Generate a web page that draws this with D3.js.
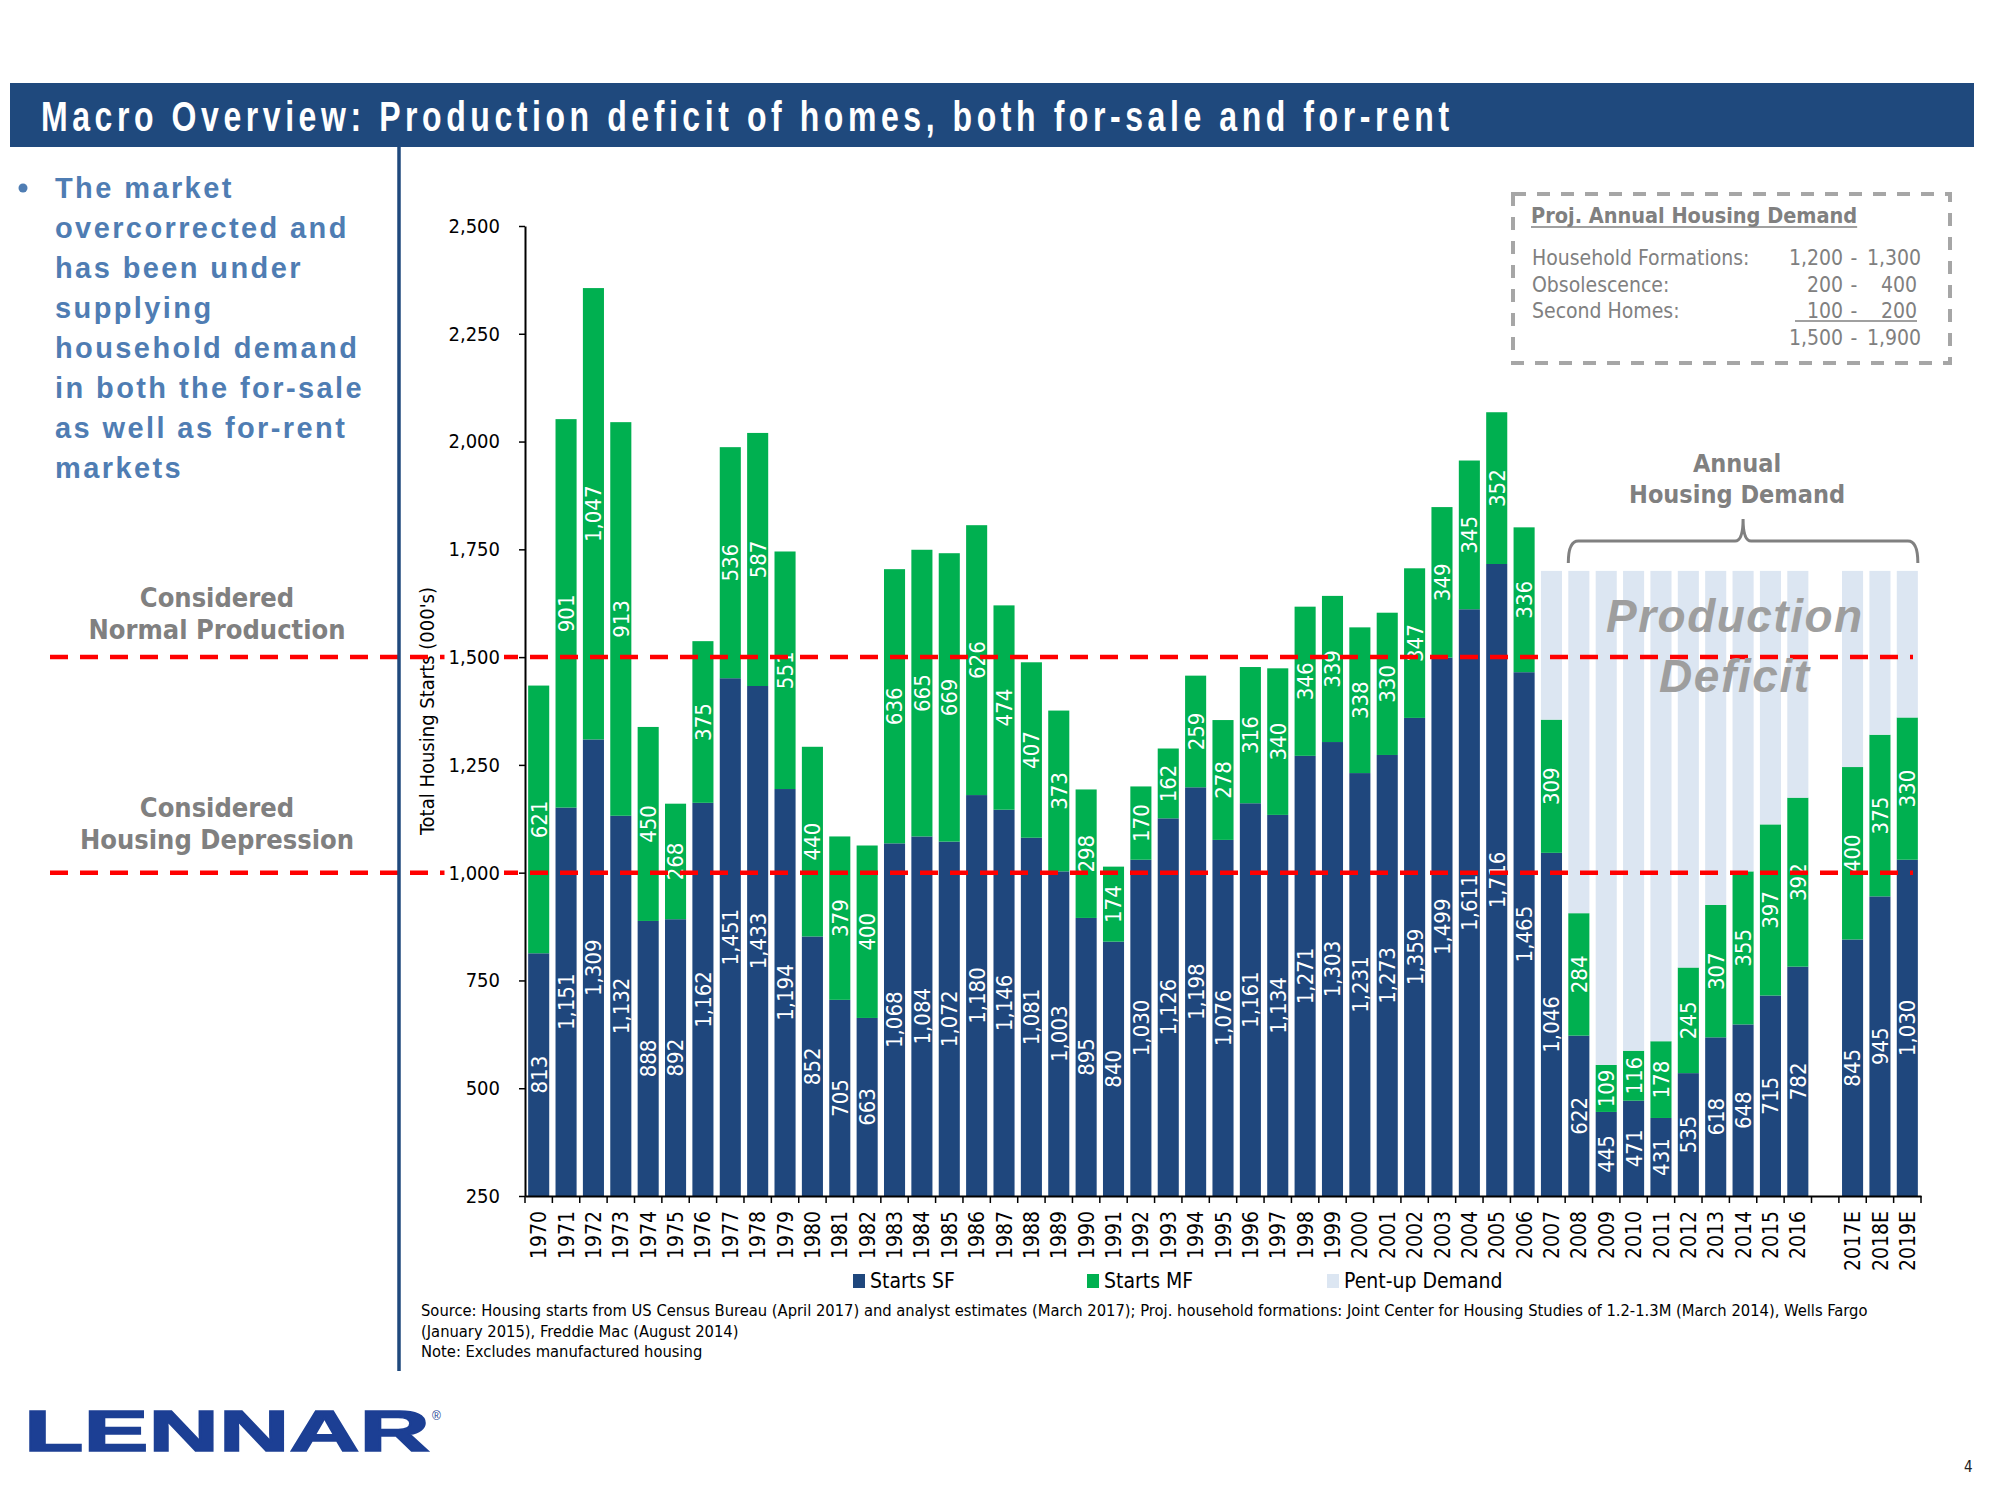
<!DOCTYPE html>
<html>
<head>
<meta charset="utf-8">
<script src="https://cdnjs.cloudflare.com/ajax/libs/d3/7.8.5/d3.min.js"></script>
<style>
  body { margin: 0; background: #fff; }
  svg { display: block; }
</style>
</head>
<body>
<svg id="chart" width="2000" height="1500"></svg>
<script>
// ---- data (thousands of units) ----
const years = [
  "1970","1971","1972","1973","1974","1975","1976","1977","1978","1979",
  "1980","1981","1982","1983","1984","1985","1986","1987","1988","1989",
  "1990","1991","1992","1993","1994","1995","1996","1997","1998","1999",
  "2000","2001","2002","2003","2004","2005","2006","2007","2008","2009",
  "2010","2011","2012","2013","2014","2015","2016","","2017E","2018E","2019E"
];
const startsSF = [
  813,1151,1309,1132,888,892,1162,1451,1433,1194,
  852,705,663,1068,1084,1072,1180,1146,1081,1003,
  895,840,1030,1126,1198,1076,1161,1134,1271,1303,
  1231,1273,1359,1499,1611,1716,1465,1046,622,445,
  471,431,535,618,648,715,782,null,845,945,1030
];
const startsMF = [
  621,901,1047,913,450,268,375,536,587,551,
  440,379,400,636,665,669,626,474,407,373,
  298,174,170,162,259,278,316,340,346,339,
  338,330,347,349,345,352,336,309,284,109,
  116,178,245,307,355,397,392,null,400,375,330
];
const pentYears = ["2007","2008","2009","2010","2011","2012","2013","2014","2015","2016","2017E","2018E","2019E"];
const pentUp    = [345, 794, 1146, 1113, 1091, 920, 775, 697, 588, 526, 455, 380, 340];
const yTicks = [250, 500, 750, 1000, 1250, 1500, 1750, 2000, 2250, 2500];
const refLines = [1500, 1000];

const seriesNames  = ["Starts SF", "Starts MF", "Pent-up Demand"];
const seriesColors = ["#1f477d", "#00b050", "#dce6f2"];

const demandLabels = ["Household Formations:", "Obsolescence:", "Second Homes:", ""];
const demandLow    = ["1,200", "200", "100", "1,500"];
const demandHigh   = ["1,300", "400", "200", "1,900"];

const bulletLines = ["The market", "overcorrected and", "has been under", "supplying",
  "household demand", "in both the for-sale", "as well as for-rent", "markets"];

const sourceLines = [
  "Source: Housing starts from US Census Bureau (April 2017) and analyst estimates (March 2017); Proj. household formations: Joint Center for Housing Studies of 1.2-1.3M (March 2014), Wells Fargo",
  "(January 2015), Freddie Mac (August 2014)",
  "Note: Excludes manufactured housing"
];

const FONT = '"DejaVu Sans Condensed","DejaVu Sans",sans-serif';
const ARIAL = '"Liberation Sans",Arial,sans-serif';
const GREY = "#808080";
const NAVY = "#1f497d";

const svg = d3.select("#chart");

// ---- header band ----
svg.append("rect").attr("x", 10).attr("y", 83).attr("width", 1964).attr("height", 64).attr("fill", NAVY);
const title = svg.append("text")
  .attr("font-family", ARIAL).attr("font-weight", "bold").attr("font-size", 42)
  .attr("letter-spacing", 6).attr("fill", "#fff")
  .text("Macro Overview: Production deficit of homes, both for-sale and for-rent");
const tw = title.node().getComputedTextLength();
title.attr("transform", `translate(41,131) scale(${1413 / tw},1)`);

// ---- left commentary ----
svg.append("circle").attr("cx", 23).attr("cy", 188).attr("r", 4.5).attr("fill", "#4f7db3");
svg.append("g").selectAll("text").data(bulletLines).join("text")
  .attr("x", 55).attr("y", (d, i) => 198 + i * 40)
  .attr("font-family", ARIAL).attr("font-weight", "bold").attr("font-size", 29)
  .attr("letter-spacing", 2.4).attr("fill", "#4f7db3")
  .text(d => d);

const sideNotes = [
  { lines: ["Considered", "Normal Production"], base: 607 },
  { lines: ["Considered", "Housing Depression"], base: 817 }
];
sideNotes.forEach(n => {
  svg.append("g").selectAll("text").data(n.lines).join("text")
    .attr("x", 217).attr("y", (d, i) => n.base + i * 32)
    .attr("text-anchor", "middle")
    .attr("font-family", FONT).attr("font-stretch", "condensed").attr("font-weight", "bold")
    .attr("font-size", 27).attr("fill", GREY)
    .text(d => d);
});

// ---- scales ----
const x = d3.scaleBand().domain(years).range([525, 1921]).paddingInner(0.23).paddingOuter(0.115);
const y = d3.scaleLinear().domain([250, 2500]).range([1196, 226]);
const yMin = y.domain()[0];

// y axis title
svg.append("text")
  .attr("transform", `translate(427,${(y.range()[0] + y.range()[1]) / 2}) rotate(-90)`)
  .attr("text-anchor", "middle").attr("dy", "0.35em")
  .attr("font-family", FONT).attr("font-stretch", "condensed").attr("font-size", 20)
  .text("Total Housing Starts (000's)");

// ---- bars ----
const pentMap = new Map(pentYears.map((k, i) => [k, pentUp[i]]));
const table = years.map((yr, i) => ({
  year: yr, sf: startsSF[i], mf: startsMF[i], pent: pentMap.has(yr) ? pentMap.get(yr) : null
}));
const keys = ["sf", "mf", "pent"];
const stacked = d3.stack().keys(keys).value((d, k) => d[k] || 0)(table);

const barG = svg.append("g");
stacked.forEach((s, si) => {
  barG.append("g").attr("fill", seriesColors[si])
    .selectAll("rect").data(s.filter(d => d.data[keys[si]] != null)).join("rect")
    .attr("x", d => x(d.data.year))
    .attr("width", x.bandwidth())
    .attr("y", d => y(d[1]))
    .attr("height", d => y(Math.max(d[0], yMin)) - y(d[1]));
});

// value labels (SF and MF), centred in each segment
const fmt = d3.format(",");
stacked.slice(0, 2).forEach((s, si) => {
  barG.append("g").selectAll("text").data(s.filter(d => d.data[keys[si]] != null)).join("text")
    .attr("transform", d => {
      const cx = x(d.data.year) + x.bandwidth() / 2;
      const cy = y((Math.max(d[0], yMin) + d[1]) / 2);
      return `translate(${cx},${cy}) rotate(-90)`;
    })
    .attr("text-anchor", "middle").attr("dy", "0.36em")
    .attr("font-family", FONT).attr("font-stretch", "condensed").attr("font-size", 22)
    .attr("fill", "#fff")
    .text(d => fmt(d.data[keys[si]]));
});

// ---- reference lines ----
svg.append("g").selectAll("line").data(refLines).join("line")
  .attr("x1", 50).attr("x2", 1913)
  .attr("y1", d => y(d)).attr("y2", d => y(d))
  .attr("stroke", "#ff0000").attr("stroke-width", 4.5).attr("stroke-dasharray", "18 12");

// ---- axes ----
const yAxis = svg.append("g").attr("transform", `translate(${x.range()[0]},0)`)
  .call(d3.axisLeft(y).tickValues(yTicks).tickFormat(fmt).tickSize(6).tickSizeOuter(0).tickPadding(19));
yAxis.select(".domain").attr("stroke", "#000").attr("stroke-width", 2);
yAxis.selectAll(".tick line").attr("stroke", "#000").attr("stroke-width", 1.5);
yAxis.selectAll(".tick text")
  .attr("font-family", FONT).attr("font-stretch", "condensed").attr("font-size", 20).attr("fill", "#000");
yAxis.selectAll(".tick").each(function () {
  const g = d3.select(this);
  const bb = g.select("text").node().getBBox();
  g.insert("rect", "text")
    .attr("x", bb.x - 4).attr("y", bb.y).attr("width", bb.width + 8).attr("height", bb.height)
    .attr("fill", "#fff");
});

const xAxisY = y.range()[0];
const xAxis = svg.append("g").attr("transform", `translate(0,${xAxisY})`)
  .call(d3.axisBottom(x).tickSize(0).tickSizeOuter(0));
xAxis.select(".domain").attr("stroke", "#000").attr("stroke-width", 2);
xAxis.selectAll(".tick text")
  .attr("transform", "rotate(-90)")
  .attr("text-anchor", "end").attr("x", -15).attr("y", 0).attr("dy", "0.36em")
  .attr("font-family", FONT).attr("font-stretch", "condensed").attr("font-size", 21).attr("fill", "#000");
const bounds = d3.range(years.length + 1).map(k => x.range()[0] + k * x.step());
xAxis.append("g").selectAll("line").data(bounds).join("line")
  .attr("x1", d => d).attr("x2", d => d).attr("y1", 0).attr("y2", 7)
  .attr("stroke", "#000").attr("stroke-width", 1.5);

// ---- legend ----
const legendX = [853, 1087, 1327];
const leg = svg.append("g").selectAll("g").data(seriesNames).join("g")
  .attr("transform", (d, i) => `translate(${legendX[i]},1274)`);
leg.append("rect").attr("width", 12).attr("height", 14).attr("fill", (d, i) => seriesColors[i]);
leg.append("text").attr("x", 17).attr("y", 14)
  .attr("font-family", FONT).attr("font-stretch", "condensed").attr("font-size", 21)
  .text(d => d);

// ---- source notes ----
svg.append("g").selectAll("text").data(sourceLines).join("text")
  .attr("x", 421).attr("y", (d, i) => 1316 + i * 20.5)
  .attr("font-family", FONT).attr("font-stretch", "condensed").attr("font-size", 16.4)
  .text(d => d);

// ---- left divider ----
svg.append("line").attr("x1", 399).attr("x2", 399).attr("y1", 147).attr("y2", 1371)
  .attr("stroke", NAVY).attr("stroke-width", 3.5);

// ---- demand box ----
svg.append("rect").attr("x", 1513).attr("y", 194).attr("width", 437).attr("height", 169)
  .attr("fill", "none").attr("stroke", "#a6a6a6").attr("stroke-width", 4).attr("stroke-dasharray", "13 11");
const boxTitle = svg.append("text").attr("x", 1531).attr("y", 223)
  .attr("font-family", FONT).attr("font-stretch", "condensed").attr("font-weight", "bold")
  .attr("font-size", 21.5).attr("fill", GREY).text("Proj. Annual Housing Demand");
svg.append("line").attr("x1", 1531).attr("x2", 1531 + boxTitle.node().getComputedTextLength())
  .attr("y1", 227).attr("y2", 227).attr("stroke", GREY).attr("stroke-width", 1.5);
const rows = svg.append("g").selectAll("g").data(demandLabels).join("g")
  .attr("transform", (d, i) => `translate(0,${265 + i * 26.7})`)
  .attr("font-family", FONT).attr("font-stretch", "condensed").attr("font-size", 21).attr("fill", GREY);
rows.append("text").attr("x", 1532).text(d => d);
rows.append("text").attr("x", 1843).attr("text-anchor", "end").text((d, i) => demandLow[i]);
rows.append("text").attr("x", 1854).attr("text-anchor", "middle").text("-");
rows.append("text").attr("x", (d, i) => demandHigh[i].length > 3 ? 1921 : 1917)
  .attr("text-anchor", "end").text((d, i) => demandHigh[i]);
svg.append("line").attr("x1", 1795).attr("x2", 1917).attr("y1", 321).attr("y2", 321)
  .attr("stroke", GREY).attr("stroke-width", 1.5);

// ---- annual housing demand brace ----
const bx0 = x("2008"), bx1 = x("2019E") + x.bandwidth();
const bMid = (bx0 + bx1) / 2;
const bTop = y(pentUp[0] + startsSF[37] + startsMF[37]) - 52, bBar = bTop + 22, bEnd = bTop + 44;
svg.append("path")
  .attr("d", `M${bx0},${bEnd} Q${bx0},${bBar} ${bx0 + 10},${bBar} L${bMid - 8},${bBar} Q${bMid},${bBar} ${bMid},${bTop}
              Q${bMid},${bBar} ${bMid + 8},${bBar} L${bx1 - 10},${bBar} Q${bx1},${bBar} ${bx1},${bEnd}`)
  .attr("fill", "none").attr("stroke", GREY).attr("stroke-width", 3);
svg.append("g").selectAll("text").data(["Annual", "Housing Demand"]).join("text")
  .attr("x", bMid - 6).attr("y", (d, i) => 472 + i * 31)
  .attr("text-anchor", "middle")
  .attr("font-family", FONT).attr("font-stretch", "condensed").attr("font-weight", "bold")
  .attr("font-size", 25).attr("fill", GREY)
  .text(d => d);

// ---- production deficit ----
[["Production", 632, 256], ["Deficit", 692, 150]].forEach(([t, yy, len]) => {
  svg.append("text").attr("x", bMid - 9).attr("y", yy)
    .attr("text-anchor", "middle")
    .attr("font-family", ARIAL).attr("font-weight", "bold").attr("font-style", "italic")
    .attr("font-size", 46).attr("fill", "#9e9e9e")
    .attr("textLength", len).attr("lengthAdjust", "spacing")
    .text(t);
});

// ---- logo & page number ----
svg.append("text").attr("x", 24).attr("y", 1451)
  .attr("font-family", ARIAL).attr("font-weight", "bold").attr("font-size", 58)
  .attr("fill", "#1c3f94").attr("stroke", "#1c3f94").attr("stroke-width", 1.5)
  .attr("textLength", 406).attr("lengthAdjust", "spacingAndGlyphs")
  .text("LENNAR");
svg.append("text").attr("x", 432).attr("y", 1420)
  .attr("font-family", ARIAL).attr("font-size", 12).attr("fill", "#1c3f94").text("®");
svg.append("text").attr("x", 1964).attr("y", 1472)
  .attr("font-family", FONT).attr("font-size", 15).attr("fill", "#222").text("4");
</script>
</body>
</html>
